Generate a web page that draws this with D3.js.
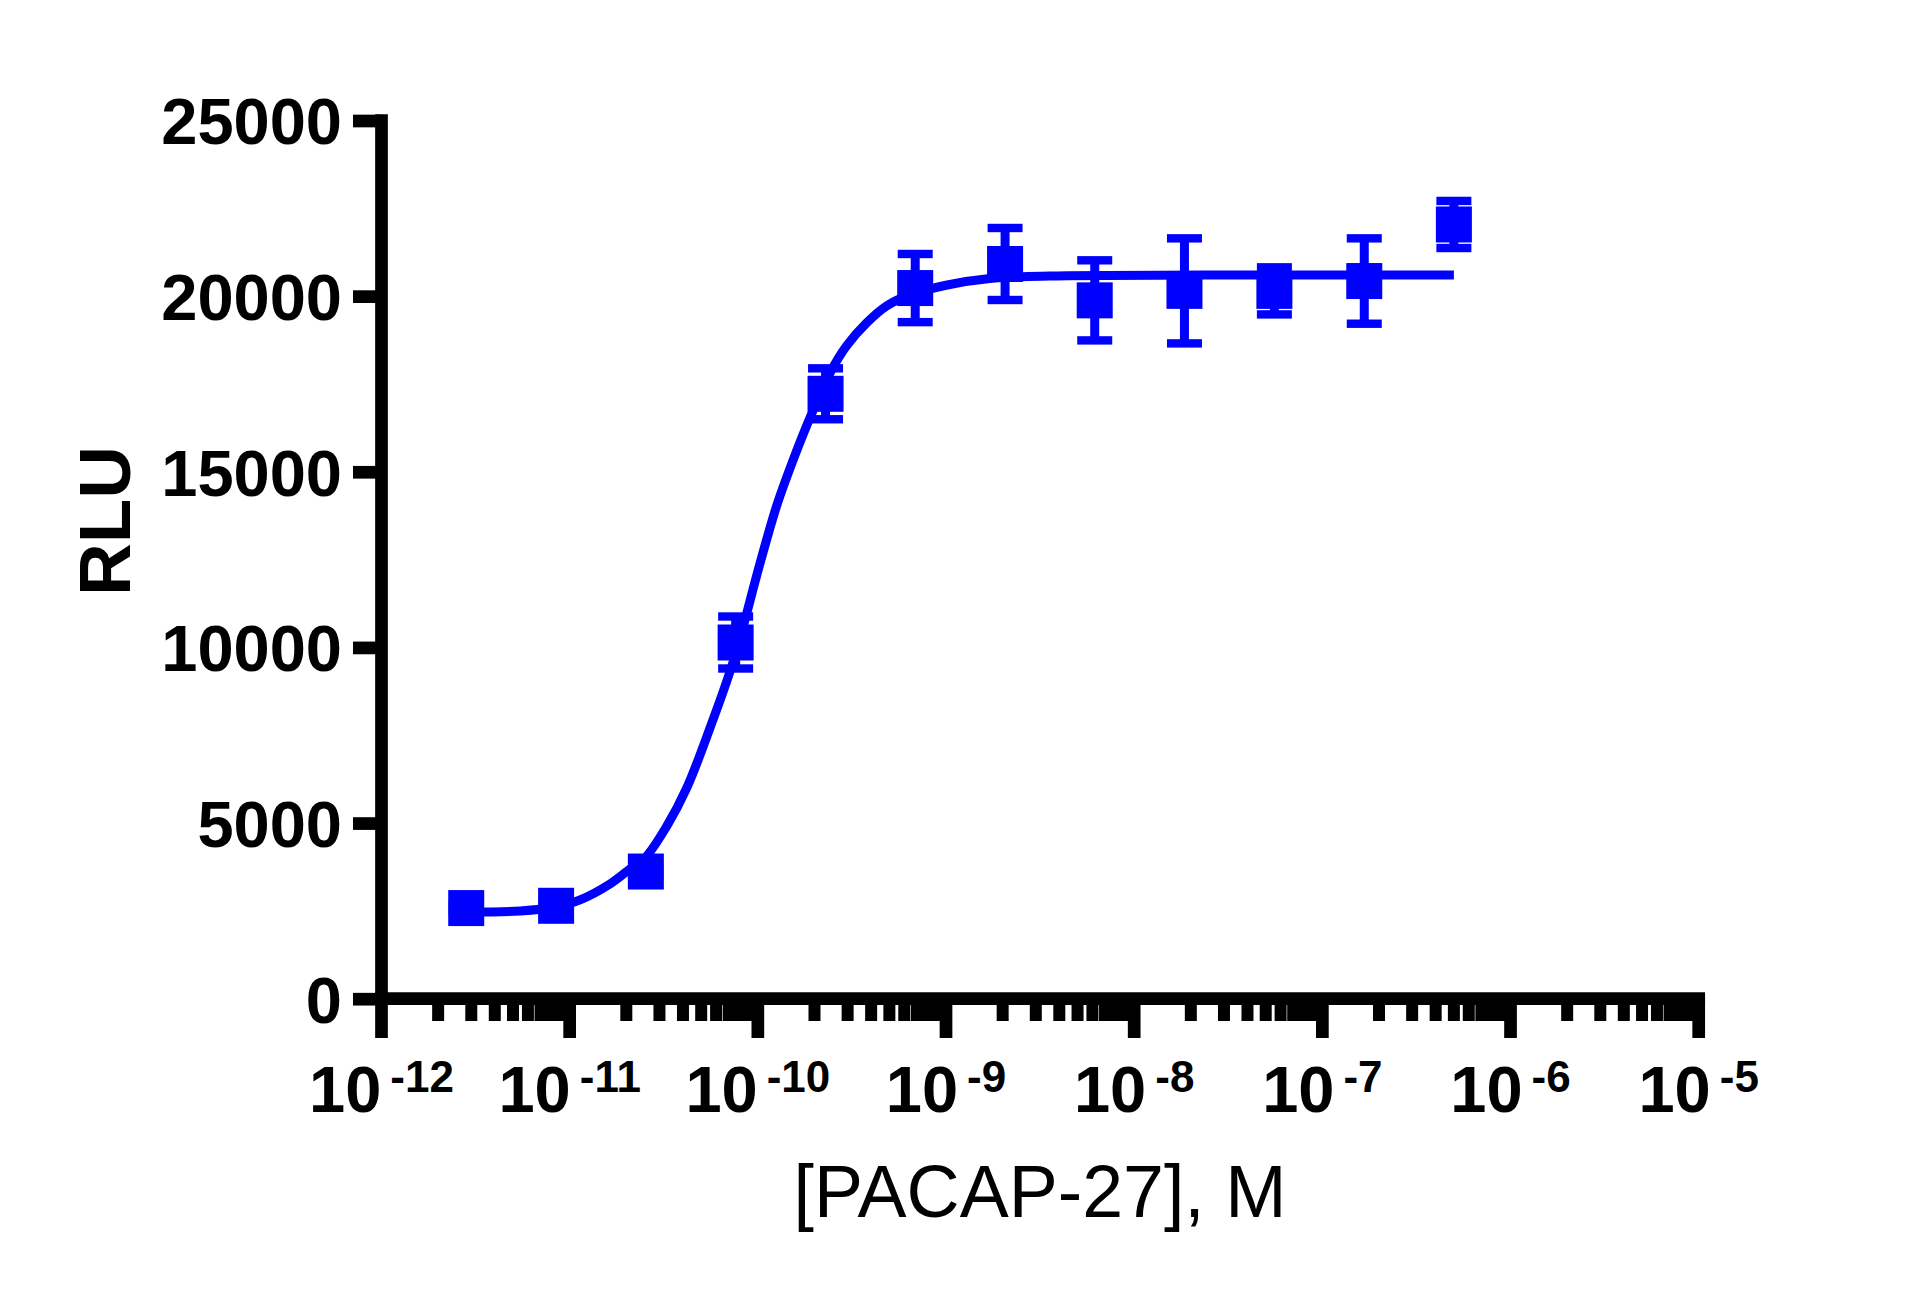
<!DOCTYPE html>
<html>
<head>
<meta charset="utf-8">
<script src="https://cdn.jsdelivr.net/npm/d3@7"></script>
<style>
  html, body { margin: 0; padding: 0; background: #ffffff; }
  svg { display: block; }
</style>
</head>
<body>
<div id="chart"></div>
<script>
// ---- Data ----
const concentrations = [2.82e-12, 8.47e-12, 2.54e-11, 7.62e-11, 2.29e-10, 6.86e-10, 2.06e-9, 6.17e-9, 1.85e-8, 5.56e-8, 1.67e-7, 5.0e-7];
const rluMean = [2580, 2645, 3620, 10140, 17220, 20230, 20915, 19880, 20150, 20150, 20430, 22040];
const rluSem  = [100, 100, 150, 740, 725, 970, 1025, 1140, 1495, 670, 1215, 670];

// fitted curve as drawn in the reference (concentration, RLU)
const fitConc = [2.82e-12, 5.45e-12, 8.41e-12, 1.135e-11, 1.637e-11, 2.09e-11, 2.51e-11, 3.27e-11, 4.19e-11, 5.56e-11, 7.40e-11, 1.026e-10, 1.26e-10, 1.54e-10, 1.89e-10, 2.42e-10, 2.96e-10, 3.78e-10, 4.83e-10, 6.18e-10, 1.0e-9, 1.71e-9, 3.56e-9, 2.24e-8, 5.0e-7];
const fitRlu  = [2468, 2497, 2610, 2812, 3265, 3692, 4005, 4900, 6000, 7700, 9600, 12386, 14037, 15335, 16531, 17818, 18586, 19235, 19719, 20004, 20310, 20500, 20575, 20600, 20600];

const yTicks = [0, 5000, 10000, 15000, 20000, 25000];
const xMajorExponents = [-12, -11, -10, -9, -8, -7, -6, -5];
const xTitle = "[PACAP-27], M";
const yTitle = "RLU";

// ---- Layout ----
const W = 1908, H = 1296;
const AXW = 12.7;
const COLOR = "#0000ff";
const FONT = "'Liberation Sans', Arial, Helvetica, sans-serif";

const svg = d3.select("#chart").append("svg")
  .attr("width", W).attr("height", H)
  .style("background", "#fff");

const x = d3.scaleLog().domain([1e-12, 1e-5]).range([381.5, 1698.7]);
const y = d3.scaleLinear().domain([0, 25000]).range([998.7, 120.5]);

// ---- Axes ----
const g = svg.append("g");

// y axis line
g.append("line")
  .attr("x1", x(1e-12)).attr("x2", x(1e-12))
  .attr("y1", y(25000) - AXW / 2).attr("y2", y(0))
  .attr("stroke", "#000").attr("stroke-width", AXW);

// x axis line
g.append("line")
  .attr("x1", x(1e-12) - AXW / 2).attr("x2", x(1e-5) + AXW / 2)
  .attr("y1", y(0)).attr("y2", y(0))
  .attr("stroke", "#000").attr("stroke-width", AXW);

// y ticks via d3 axis
const yAxis = d3.axisLeft(y).tickValues(yTicks).tickSize(28.5).tickPadding(11)
  .tickFormat(d3.format("d"));
const yg = g.append("g").attr("transform", `translate(${x(1e-12)},0)`).call(yAxis);
yg.select(".domain").remove();
yg.selectAll(".tick line").attr("stroke", "#000").attr("stroke-width", AXW);
yg.selectAll(".tick text")
  .attr("font-family", FONT).attr("font-weight", "bold").attr("font-size", 65)
  .attr("fill", "#000").attr("dy", "0.36em");

// x minor ticks
const minorTicks = [];
xMajorExponents.slice(0, -1).forEach(e => {
  for (let k = 2; k <= 9; k++) minorTicks.push(k * Math.pow(10, e));
});
g.selectAll(".xminor").data(minorTicks).join("line")
  .attr("class", "xminor")
  .attr("x1", d => x(d)).attr("x2", d => x(d))
  .attr("y1", y(0)).attr("y2", y(0) + 22.3)
  .attr("stroke", "#000").attr("stroke-width", 12);

// x major ticks
const majorVals = xMajorExponents.map(e => Math.pow(10, e));
g.selectAll(".xmajor").data(majorVals).join("line")
  .attr("class", "xmajor")
  .attr("x1", d => x(d)).attr("x2", d => x(d))
  .attr("y1", y(0)).attr("y2", y(0) + 39.3)
  .attr("stroke", "#000").attr("stroke-width", AXW);

// x tick labels with superscripts
const xl = g.selectAll(".xlab").data(xMajorExponents).join("text")
  .attr("class", "xlab")
  .attr("x", d => x(Math.pow(10, d)))
  .attr("y", 1111.7)
  .attr("text-anchor", "middle")
  .attr("font-family", FONT).attr("font-weight", "bold").attr("fill", "#000");
xl.append("tspan").attr("font-size", 65).text("10");
xl.append("tspan").attr("font-size", 44).attr("dx", 9).attr("dy", -20)
  .text(d => "-" + Math.abs(d));

// axis titles
svg.append("text")
  .attr("x", 1040).attr("y", 1217)
  .attr("text-anchor", "middle")
  .attr("font-family", FONT).attr("font-size", 73.5).attr("fill", "#000")
  .text(xTitle);

svg.append("text")
  .attr("transform", "translate(130,521) rotate(-90)")
  .attr("text-anchor", "middle")
  .attr("font-family", FONT).attr("font-weight", "bold").attr("font-size", 73).attr("fill", "#000")
  .text(yTitle);

// ---- Fit curve ----
const fitData = fitConc.map((c, i) => ({ c, v: fitRlu[i] }));
const line = d3.line().x(d => x(d.c)).y(d => y(d.v)).curve(d3.curveCatmullRom.alpha(0.5));
svg.append("path").datum(fitData)
  .attr("d", line)
  .attr("fill", "none").attr("stroke", COLOR).attr("stroke-width", 9)
  .attr("stroke-linejoin", "round");

// ---- Points with error bars ----
const pts = concentrations.map((c, i) => ({ c, m: rluMean[i], s: rluSem[i] }));
const eg = svg.append("g");
const CAPW = 35, CAPT = 8.4, STEM = 9, SQ = 36;

eg.selectAll(".stem").data(pts).join("line")
  .attr("x1", d => x(d.c)).attr("x2", d => x(d.c))
  .attr("y1", d => y(d.m + d.s)).attr("y2", d => y(d.m - d.s))
  .attr("stroke", COLOR).attr("stroke-width", STEM);

eg.selectAll(".capTop").data(pts).join("rect")
  .attr("x", d => x(d.c) - CAPW / 2).attr("width", CAPW)
  .attr("y", d => y(d.m + d.s) - CAPT / 2).attr("height", CAPT)
  .attr("fill", COLOR);
eg.selectAll(".capBot").data(pts).join("rect")
  .attr("x", d => x(d.c) - CAPW / 2).attr("width", CAPW)
  .attr("y", d => y(d.m - d.s) - CAPT / 2).attr("height", CAPT)
  .attr("fill", COLOR);

eg.selectAll(".sq").data(pts).join("rect")
  .attr("x", d => x(d.c) - SQ / 2).attr("y", d => y(d.m) - SQ / 2)
  .attr("width", SQ).attr("height", SQ)
  .attr("fill", COLOR);
</script>
</body>
</html>
